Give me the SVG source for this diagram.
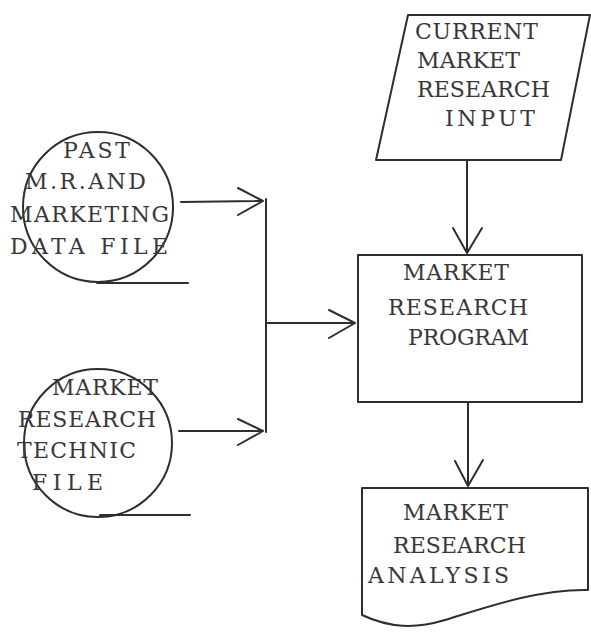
<svg xmlns="http://www.w3.org/2000/svg" width="591" height="633" viewBox="0 0 591 633">
<style>
.s{fill:none;stroke:#2e2e2e;stroke-width:2;stroke-linecap:round;stroke-linejoin:round}
.t{font-family:"DejaVu Serif","Liberation Serif",serif;font-size:22px;fill:#383838}
</style>
<rect width="591" height="633" fill="#fff"/>
<g id="past-file">
<circle class="s" cx="98" cy="207" r="75"/>
<line class="s" x1="97" y1="283" x2="188" y2="283"/>
<text class="t" x="63" y="158" textLength="67" lengthAdjust="spacing">PAST</text>
<text class="t" x="25" y="189" textLength="121" lengthAdjust="spacing">M.R.AND</text>
<text class="t" x="10" y="222" textLength="159" lengthAdjust="spacing">MARKETING</text>
<text class="t" x="10" y="254" textLength="158" lengthAdjust="spacing">DATA FILE</text>
</g>
<g id="technic-file">
<circle class="s" cx="98" cy="443" r="74"/>
<line class="s" x1="100" y1="515" x2="190" y2="515"/>
<text class="t" x="52" y="395" textLength="106" lengthAdjust="spacing">MARKET</text>
<text class="t" x="18" y="427" textLength="138" lengthAdjust="spacing">RESEARCH</text>
<text class="t" x="17" y="458" textLength="119" lengthAdjust="spacing">TECHNIC</text>
<text class="t" x="32" y="490" textLength="71" lengthAdjust="spacing">FILE</text>
</g>
<g id="input">
<polygon class="s" points="408,15 590,15 561,160 376,160"/>
<text class="t" x="415" y="39" textLength="123" lengthAdjust="spacing">CURRENT</text>
<text class="t" x="417" y="68" textLength="103" lengthAdjust="spacing">MARKET</text>
<text class="t" x="417" y="97" textLength="133" lengthAdjust="spacing">RESEARCH</text>
<text class="t" x="445" y="126" textLength="90" lengthAdjust="spacing">INPUT</text>
</g>
<g id="program">
<rect class="s" x="358" y="255" width="224" height="147"/>
<text class="t" x="403" y="280" textLength="106" lengthAdjust="spacing">MARKET</text>
<text class="t" x="388" y="315" textLength="140" lengthAdjust="spacing">RESEARCH</text>
<text class="t" x="408" y="345" textLength="121" lengthAdjust="spacing">PROGRAM</text>
</g>
<g id="analysis">
<path class="s" d="M362,488 L588,488 L588,590 C540,589 490,606 445,620 C415,629 390,628 362,615 Z"/>
<text class="t" x="403" y="520" textLength="105" lengthAdjust="spacing">MARKET</text>
<text class="t" x="393" y="553" textLength="133" lengthAdjust="spacing">RESEARCH</text>
<text class="t" x="368" y="583" textLength="141" lengthAdjust="spacing">ANALYSIS</text>
</g>
<g id="connectors">
<path class="s" d="M181,202 L263,201 M238,188 L263,201 L238,215"/>
<path class="s" d="M179,431 L263,431 M238,419 L263,431 L238,445"/>
<path class="s" d="M266,199 L266,432"/>
<path class="s" d="M266,323 L355,323 M329,310 L355,323 L329,338"/>
<path class="s" d="M467,161 L467,253 M453,228 L467,253 L482,228"/>
<path class="s" d="M468,403 L468,486 M455,461 L468,486 L483,460"/>
</g>
</svg>
